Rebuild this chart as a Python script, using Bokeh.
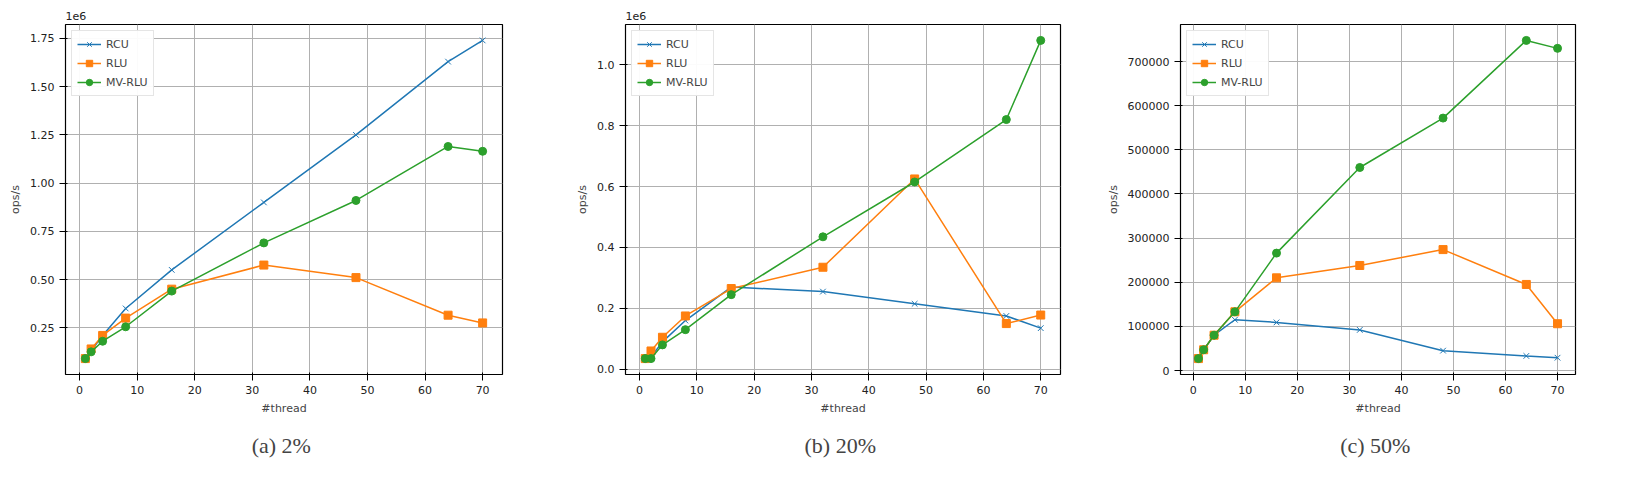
from bokeh.plotting import figure
from bokeh.layouts import row
from bokeh.models import Title, Range1d, FixedTicker, CustomJSTickFormatter
from bokeh.embed import file_html
from bokeh.resources import INLINE

threads = [1, 2, 4, 8, 16, 32, 48, 64, 70]

# (a) 2% updates, values in 1e6 ops/s
rcu_a = [0.09, 0.13, 0.21, 0.35, 0.55, 0.90, 1.25, 1.63, 1.74]
rlu_a = [0.09, 0.14, 0.21, 0.30, 0.45, 0.575, 0.51, 0.315, 0.275]
mv_a = [0.09, 0.125, 0.18, 0.255, 0.44, 0.69, 0.91, 1.19, 1.165]

# (b) 20% updates, values in 1e6 ops/s
rcu_b = [0.035, 0.04, 0.09, 0.16, 0.27, 0.255, 0.215, 0.175, 0.135]
rlu_b = [0.035, 0.06, 0.105, 0.175, 0.265, 0.335, 0.625, 0.15, 0.178]
mv_b = [0.035, 0.035, 0.08, 0.13, 0.245, 0.435, 0.615, 0.82, 1.08]

# (c) 50% updates, ops/s
rcu_c = [27000, 47000, 80000, 115000, 109000, 92000, 45000, 33000, 29000]
rlu_c = [27000, 47000, 80000, 133000, 210000, 238000, 274000, 195000, 106000]
mv_c = [27000, 47000, 80000, 133000, 266000, 460000, 572000, 748000, 730000]

x_ticks = [0, 10, 20, 30, 40, 50, 60, 70]
ticks_a = [0.25, 0.5, 0.75, 1.0, 1.25, 1.5, 1.75]
ticks_b = [0.0, 0.2, 0.4, 0.6, 0.8, 1.0]
ticks_c = [0, 100000, 200000, 300000, 400000, 500000, 600000, 700000]

captions = ["(a)  2%", "(b)  20%", "(c)  50%"]
COLORS = ["#1f77b4", "#ff7f0e", "#2ca02c"]
FONT = "DejaVu Sans"


def panel(rcu, rlu, mv, yticks, fmt, caption, scale_label, left_border, right_border):
    allv = rcu + rlu + mv
    lo, hi = min(allv), max(allv)
    pad = (hi - lo) * 0.05
    p = figure(width=540, height=470, output_backend="svg", toolbar_location=None,
               x_range=Range1d(1 - 69 * 0.05, 70 + 69 * 0.05),
               y_range=Range1d(lo - pad, hi + pad),
               min_border_left=left_border, min_border_right=right_border,
               min_border_top=16, min_border_bottom=10)
    p.outline_line_color = "black"
    p.outline_line_width = 1.2
    p.xgrid.grid_line_color = "#b0b0b0"
    p.ygrid.grid_line_color = "#b0b0b0"
    p.xaxis.ticker = FixedTicker(ticks=x_ticks)
    p.yaxis.ticker = FixedTicker(ticks=yticks)
    p.yaxis.formatter = CustomJSTickFormatter(code=fmt)
    for ax in (p.xaxis[0], p.yaxis[0]):
        ax.minor_tick_line_color = None
        ax.major_label_text_font = FONT
        ax.major_label_text_font_size = "11px"
        ax.major_label_text_color = "#222222"
        ax.axis_label_text_font = FONT
        ax.axis_label_text_font_size = "11px"
        ax.axis_label_text_font_style = "normal"
        ax.axis_line_color = None
    p.xaxis.axis_label = "#thread"
    p.yaxis.axis_label = "ops/s"

    p.line(threads, rcu, color=COLORS[0], line_width=1.5, legend_label="RCU")
    p.scatter(threads, rcu, marker="x", size=8, color=COLORS[0], legend_label="RCU")
    p.line(threads, rlu, color=COLORS[1], line_width=1.5, legend_label="RLU")
    p.scatter(threads, rlu, marker="square", size=8, color=COLORS[1], legend_label="RLU")
    p.line(threads, mv, color=COLORS[2], line_width=1.5, legend_label="MV-RLU")
    p.scatter(threads, mv, marker="circle", size=8, color=COLORS[2], legend_label="MV-RLU")

    p.legend.location = "top_left"
    p.legend.label_text_font = FONT
    p.legend.label_text_font_size = "11px"
    p.legend.glyph_height = 16
    p.legend.glyph_width = 24
    p.legend.label_height = 16
    p.legend.spacing = 3
    p.legend.padding = 5
    p.legend.margin = 6
    p.legend.border_line_color = "#cccccc"

    if scale_label:
        p.add_layout(Title(text=scale_label, text_font=FONT, text_font_size="11px",
                           text_font_style="normal", text_color="#222222"), "above")
    else:
        p.add_layout(Title(text=" ", text_font_size="11px"), "above")
    p.add_layout(Title(text=caption, align="center", text_font="Liberation Serif",
                       text_font_size="22px", text_font_style="normal",
                       standoff=26), "below")
    return p


pa = panel(rcu_a, rlu_a, mv_a, ticks_a, "return tick.toFixed(2);", captions[0], "1e6", 65, 38)
pb = panel(rcu_b, rlu_b, mv_b, ticks_b, "return tick.toFixed(1);", captions[1], "1e6", 85, 20)
pc = panel(rcu_c, rlu_c, mv_c, ticks_c, "return tick.toFixed(0);", captions[2], None, 100, 45)

p = row(pa, pb, pc)
open("out.html", "w").write(file_html(p, INLINE))
